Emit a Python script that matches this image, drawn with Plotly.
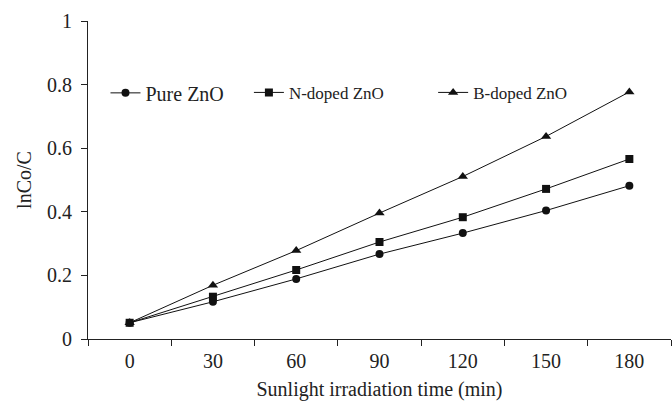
import plotly.graph_objects as go

# Irradiation time (min) and ln(C0/C) for each photocatalyst
times = ["0", "30", "60", "90", "120", "150", "180"]
pure_zno = [0.051, 0.117, 0.189, 0.267, 0.333, 0.404, 0.482]
n_doped_zno = [0.051, 0.133, 0.217, 0.305, 0.383, 0.472, 0.566]
b_doped_zno = [0.051, 0.169, 0.278, 0.396, 0.511, 0.637, 0.777]

series = [
    ("Pure ZnO", pure_zno, "circle", 8, "legend"),
    ("N-doped ZnO", n_doped_zno, "square", 8, "legend2"),
    ("B-doped ZnO", b_doped_zno, "triangle-up", 9, "legend3"),
]

FONT = "Liberation Serif, Times New Roman, serif"
INK = "#222222"

fig = go.Figure()
for name, vals, sym, msize, lg in series:
    fig.add_trace(go.Scatter(
        x=times, y=vals, mode="lines+markers", name=name, legend=lg,
        showlegend=True,
        line=dict(color="#111111", width=1),
        marker=dict(symbol=sym, size=msize, color="#111111"),
    ))

def legend_box(x, size):
    return dict(
        visible=True,
        x=x, y=0.774, xanchor="left", yanchor="middle",
        bgcolor="rgba(0,0,0,0)", borderwidth=0,
        font=dict(family=FONT, size=size, color=INK),
        tracegroupgap=0,
    )

fig.update_layout(
    width=672, height=401,
    margin=dict(l=88, r=1, t=21, b=62),
    paper_bgcolor="white", plot_bgcolor="white",
    font=dict(family=FONT, size=20, color=INK),
    showlegend=True,
    legend=legend_box(0.030, 20),
    legend2=legend_box(0.276, 17),
    legend3=legend_box(0.592, 17),
    xaxis=dict(
        type="category", range=[-0.5, 6.5], tickson="boundaries",
        ticks="outside", ticklen=6, tickwidth=1, tickcolor=INK,
        showline=True, linecolor=INK, linewidth=1,
        showgrid=False, zeroline=False,
        ticklabelstandoff=4,
        tickfont=dict(family=FONT, size=20),
        title=dict(text="Sunlight irradiation time (min)", standoff=10,
                   font=dict(family=FONT, size=20)),
    ),
    yaxis=dict(
        range=[0, 1], dtick=0.2, tickformat="~g",
        ticks="outside", ticklen=6, tickwidth=1, tickcolor=INK,
        showline=True, linecolor=INK, linewidth=1,
        showgrid=False, zeroline=False,
        ticklabelstandoff=5,
        tickfont=dict(family=FONT, size=20),
        title=dict(text="lnCo/C", standoff=10,
                   font=dict(family=FONT, size=20)),
    ),
)

fig.write_html("out.html")
